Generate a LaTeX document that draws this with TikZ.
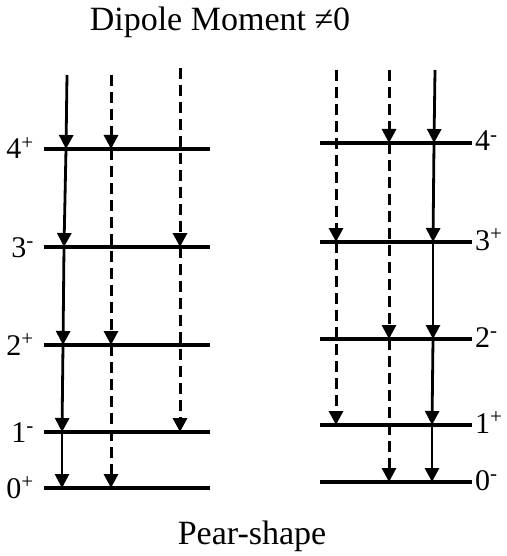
\documentclass[tikz,border=0pt]{standalone}
\usepackage{fontspec}
\setmainfont{Liberation Serif}
\usetikzlibrary{arrows.meta}

\begin{document}
\begin{tikzpicture}[x=1pt, y=-1pt,
    lvl/.style={line width=3.2pt},
    tr/.style={line width=2.8pt, -{Triangle[width=14pt,length=14pt]}},
    dtr/.style={tr, line width=3pt, dash pattern=on 11pt off 6pt},
    lab/.style={font=\fontsize{30}{34}\selectfont, inner sep=0pt},
    headtext/.style={font=\fontsize{34}{38}\selectfont, inner sep=0pt}]
  \useasboundingbox (0,0) rectangle (506,556);

  \node[headtext, anchor=base] (title) at (220,31) {Dipole Moment ≠0};
  \node[headtext, anchor=base] (shape) at (252,544) {Pear-shape};

  % levels, left side
  \foreach \n/\y/\s in {4/149/+, 3/247/-, 2/345/+, 1/432/-, 0/488/+} {
    \coordinate (La\n) at (44,\y);
    \coordinate (Lb\n) at (210,\y);
    \draw[lvl] (La\n) -- (Lb\n);
    \node[lab, anchor=base east, xshift=-10pt, yshift=-10pt] (Ll\n) at (La\n) {\n\textsuperscript{\s}};
  }

  % levels, right side
  \foreach \n/\y/\s in {4/143/-, 3/242/+, 2/339/-, 1/425/+, 0/482/-} {
    \coordinate (Ra\n) at (320,\y);
    \coordinate (Rb\n) at (472,\y);
    \draw[lvl] (Ra\n) -- (Rb\n);
    \node[lab, anchor=base west, xshift=3pt, yshift=-8pt] (Rl\n) at (Rb\n) {\n\textsuperscript{\s}};
  }

  % transitions, left
  \coordinate (Ls5) at (67,75);  \coordinate (Ls4) at (66,149);
  \coordinate (Ls3) at (64,247); \coordinate (Ls2) at (63,345);
  \coordinate (Ls1) at (62,432); \coordinate (Ls0) at (62,488);
  \foreach \a/\b in {5/4, 4/3, 3/2, 2/1, 1/0}
    \draw[tr] (Ls\a) -- (Ls\b);

  \coordinate (Lm5) at (111,75);  \coordinate (Lm4) at (111,149);
  \coordinate (Lm2) at (111,345); \coordinate (Lm0) at (111,488);
  \draw[dtr] (Lm5) -- (Lm4);
  \draw[dtr] (Lm4) -- (Lm2);
  \draw[dtr] (Lm2) -- (Lm0);

  \coordinate (Lr5) at (180,68);  \coordinate (Lr3) at (180,247);
  \coordinate (Lr1) at (180,432);
  \draw[dtr] (Lr5) -- (Lr3);
  \draw[dtr] (Lr3) -- (Lr1);

  % transitions, right
  \coordinate (Rs5) at (435,70);  \coordinate (Rs4) at (434,143);
  \coordinate (Rs3) at (433,242); \coordinate (Rs2) at (433,339);
  \coordinate (Rs1) at (432,425); \coordinate (Rs0) at (432,482);
  \foreach \a/\b in {5/4, 4/3, 3/2, 2/1, 1/0}
    \draw[tr] (Rs\a) -- (Rs\b);

  \coordinate (Rm5) at (389,70);  \coordinate (Rm4) at (389,143);
  \coordinate (Rm2) at (389,339); \coordinate (Rm0) at (389,482);
  \draw[dtr] (Rm5) -- (Rm4);
  \draw[dtr] (Rm4) -- (Rm2);
  \draw[dtr] (Rm2) -- (Rm0);

  \coordinate (Rl5) at (336,70);  \coordinate (Rl3) at (336,242);
  \coordinate (Rl1) at (336,425);
  \draw[dtr] (Rl5) -- (Rl3);
  \draw[dtr] (Rl3) -- (Rl1);
\end{tikzpicture}
\end{document}
